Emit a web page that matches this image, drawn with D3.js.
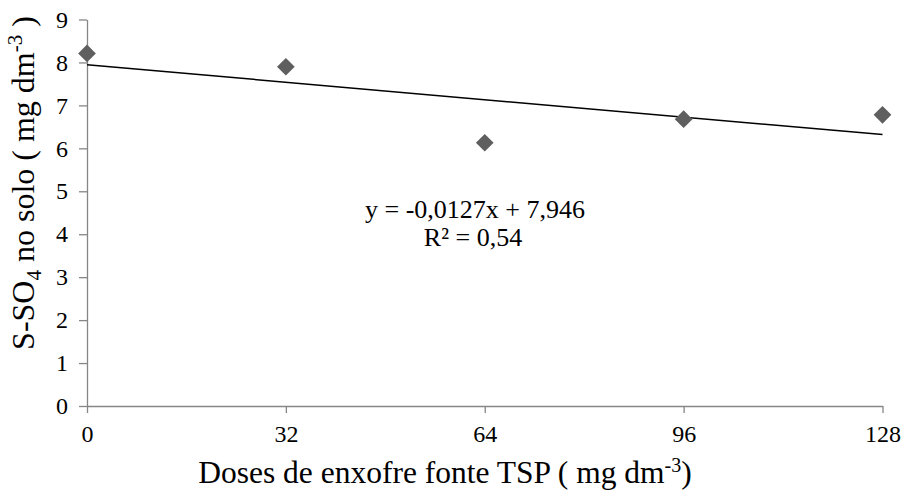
<!DOCTYPE html>
<html>
<head>
<meta charset="utf-8">
<script src="https://cdn.jsdelivr.net/npm/d3@7"></script>
<style>
  html, body { margin: 0; padding: 0; background: #fff; }
  svg { display: block; }
</style>
</head>
<body>
<svg id="chart" width="905" height="493" font-family="Liberation Serif"></svg>
<script>
// Data
const doses = [0, 32, 64, 96, 128];
const sulfate = [8.21, 7.90, 6.13, 6.68, 6.78];
const xTicks = [0, 32, 64, 96, 128];
const yTicks = [0, 1, 2, 3, 4, 5, 6, 7, 8, 9];
const trendSlope = -0.0127;
const trendIntercept = 7.946;
const equationLines = ["y = -0,0127x + 7,946", "R² = 0,54"];

const FONT = "Liberation Serif";
const svg = d3.select("#chart");
const axisColor = "#868686";

const x = d3.scaleLinear().domain([0, 128]).range([87, 882.5]);
const y = d3.scaleLinear().domain([0, 9]).range([406, 19.5]);

// Y axis
const yAxis = d3.axisLeft(y).tickValues(yTicks).tickSize(8).tickSizeOuter(0).tickPadding(11);
const gy = svg.append("g").attr("transform", `translate(${x(0)},0)`).call(yAxis)
  .attr("font-family", FONT).attr("font-size", 24);
gy.select(".domain").attr("stroke", axisColor).attr("stroke-width", 1.3);
gy.selectAll(".tick line").attr("stroke", axisColor).attr("stroke-width", 1.3);
gy.selectAll(".tick text").attr("fill", "#000").attr("font-family", FONT);

// X axis
const xAxis = d3.axisBottom(x).tickValues(xTicks).tickSize(7).tickSizeOuter(0).tickPadding(12);
const gx = svg.append("g").attr("transform", `translate(0,${y(0)})`).call(xAxis)
  .attr("font-family", FONT).attr("font-size", 24);
gx.select(".domain").attr("stroke", axisColor).attr("stroke-width", 1.3);
gx.selectAll(".tick line").attr("stroke", axisColor).attr("stroke-width", 1.3);
gx.selectAll(".tick text").attr("fill", "#000").attr("font-family", FONT);

// Trendline
svg.append("line")
  .attr("x1", x(0)).attr("y1", y(trendIntercept))
  .attr("x2", x(128)).attr("y2", y(trendIntercept + trendSlope * 128))
  .attr("stroke", "#000").attr("stroke-width", 1.5);

// Diamond markers
const diamond = d3.symbol().type(d3.symbolDiamond2).size(200);
svg.append("g").selectAll("path")
  .data(doses.map((d, i) => [d, sulfate[i]]))
  .join("path")
  .attr("d", diamond)
  .attr("transform", d => `translate(${x(d[0])},${y(d[1])})`)
  .attr("fill", "#5f5f5f");

// Equation
svg.append("text")
  .attr("x", 475).attr("y", 218)
  .attr("text-anchor", "middle").attr("font-size", 26).attr("font-family", FONT).attr("fill", "#000")
  .text(equationLines[0]);
svg.append("text")
  .attr("x", 473).attr("y", 246)
  .attr("text-anchor", "middle").attr("font-size", 26).attr("font-family", FONT).attr("fill", "#000")
  .text(equationLines[1]);

// X axis title
const xt = svg.append("text")
  .attr("x", 445).attr("y", 483)
  .attr("text-anchor", "middle").attr("font-size", 31.5).attr("font-family", FONT).attr("fill", "#000");
xt.append("tspan").text("Doses de enxofre fonte TSP ( mg dm");
xt.append("tspan").attr("font-size", 20).attr("dy", -11).text("-3");
xt.append("tspan").attr("dy", 11).text(")");

// Y axis title
const yt = svg.append("text")
  .attr("transform", "translate(34,183) rotate(-90)")
  .attr("text-anchor", "middle").attr("font-size", 32).attr("font-family", FONT).attr("fill", "#000");
yt.append("tspan").text("S-SO");
yt.append("tspan").attr("font-size", 21).attr("dy", 7).text("4");
yt.append("tspan").attr("dy", -7).text(" no solo ( mg dm");
yt.append("tspan").attr("font-size", 21).attr("dy", -12).text("-3");
yt.append("tspan").attr("dy", 12).text(" )");
</script>
</body>
</html>
